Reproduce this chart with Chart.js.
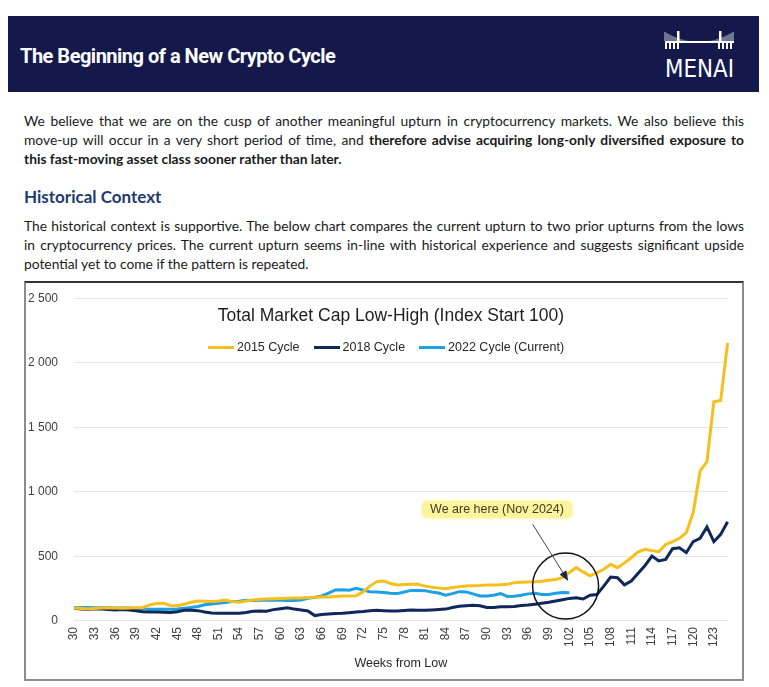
<!DOCTYPE html>
<html>
<head>
<meta charset="utf-8">
<script src="https://cdn.jsdelivr.net/npm/chart.js@4.4.1/dist/chart.umd.min.js"></script>
<style>
  html, body { margin: 0; padding: 0; background: #fff; }
  body { width: 769px; height: 687px; position: relative; overflow: hidden; font-family: Lato, "Liberation Sans", sans-serif; color: #1a1a1a; }
  .banner { position: absolute; left: 8px; top: 16px; width: 751px; height: 76px; background: #14184b; }
  .banner h1 { position: absolute; left: 12px; top: 2px; margin: 0; font: 700 20px Roboto, sans-serif; line-height: 76px; letter-spacing: -0.5px; color: #fff; }
  .logo { position: absolute; left: 655px; top: 14px; }
  .txt { position: absolute; left: 24px; width: 720px; font-size: 13.8px; line-height: 19px; white-space: nowrap; }
  .txt div { text-align: justify; text-align-last: justify; }
  .txt div.last { text-align-last: left; }
  h2 { position: absolute; left: 24px; top: 186px; margin: 0; font: 700 17px Lato, sans-serif; line-height: 22px; color: #1f3a6e; }
  .box { position: absolute; left: 24px; top: 281px; width: 716px; height: 396px; border: 2px solid #8c8c8c; border-top-color: #333; }
  .box canvas { position: absolute; left: -14px; top: -8px; }
  .ctitle { position: absolute; left: 0; width: 100%; top: 22px; text-align: center; padding-left: 14px; box-sizing: border-box; font: 17.5px "Liberation Sans", sans-serif; color: #1e1e1e; }
  .legend { position: absolute; left: 182px; top: 57px; display: flex; font: 12.5px "Liberation Sans", sans-serif; color: #262626; }
  .legend span { display: flex; align-items: center; margin-right: 14px; }
  .legend i { display: inline-block; width: 26px; height: 3px; margin-right: 3px; }
</style>
</head>
<body>
<div class="banner">
  <h1>The Beginning of a New Crypto Cycle</h1>
</div>
<svg class="logo" width="80" height="70" id="logo"></svg>

<div class="txt" style="top:111px">
  <div>We believe that we are on the cusp of another meaningful upturn in cryptocurrency markets. We also believe this</div>
  <div>move-up will occur in a very short period of time, and <b>therefore advise acquiring long-only diversified exposure to</b></div>
  <div class="last"><b>this fast-moving asset class sooner rather than later.</b></div>
</div>
<h2>Historical Context</h2>
<div class="txt" style="top:216px">
  <div>The historical context is supportive. The below chart compares the current upturn to two prior upturns from the lows</div>
  <div>in cryptocurrency prices. The current upturn seems in-line with historical experience and suggests significant upside</div>
  <div class="last">potential yet to come if the pattern is repeated.</div>
</div>

<div class="box">
  <canvas id="chart" width="736" height="404"></canvas>
  <div class="ctitle">Total Market Cap Low-High (Index Start 100)</div>
  <div class="legend">
    <span><i style="background:#f5bf1d"></i>2015 Cycle</span>
    <span><i style="background:#10275a"></i>2018 Cycle</span>
    <span><i style="background:#1ea0e4"></i>2022 Cycle (Current)</span>
  </div>
</div>

<script>
const weeks = [30, 31, 32, 33, 34, 35, 36, 37, 38, 39,
  40, 41, 42, 43, 44, 45, 46, 47, 48, 49,
  50, 51, 52, 53, 54, 55, 56, 57, 58, 59,
  60, 61, 62, 63, 64, 65, 66, 67, 68, 69,
  70, 71, 72, 73, 74, 75, 76, 77, 78, 79,
  80, 81, 82, 83, 84, 85, 86, 87, 88, 89,
  90, 91, 92, 93, 94, 95, 96, 97, 98, 99,
  100, 101, 102, 103, 104, 105, 106, 107, 108, 109,
  110, 111, 112, 113, 114, 115, 116, 117, 118, 119,
  120, 121, 122, 123, 124, 125];

const cycle2015 = [100, 97, 95, 97, 100, 102, 100, 98, 100, 102,
  105, 125, 135, 138, 120, 118, 130, 145, 155, 152,
  150, 155, 163, 150, 145, 155, 163, 168, 170, 172,
  175, 176, 178, 178, 181, 183, 186, 186, 190, 194,
  194, 196, 225, 270, 305, 310, 290, 278, 282, 284,
  284, 270, 262, 255, 250, 260, 266, 271, 273, 275,
  279, 279, 280, 285, 297, 300, 302, 304, 308, 315,
  322, 335, 375, 413, 380, 350, 372, 400, 439, 413,
  450, 490, 535, 555, 545, 537, 593, 615, 640, 685,
  840, 1160, 1235, 1698, 1708, 2154];

const cycle2018 = [100, 92, 90, 95, 92, 88, 85, 88, 85, 80,
  72, 70, 70, 68, 66, 72, 83, 83, 80, 70,
  62, 60, 60, 60, 60, 65, 75, 78, 76, 88,
  95, 102, 92, 85, 78, 42, 50, 54, 57, 59,
  64, 70, 74, 80, 83, 80, 78, 77, 82, 85,
  84, 83, 85, 88, 92, 105, 114, 118, 121, 118,
  105, 105, 110, 111, 113, 120, 124, 130, 137, 145,
  155, 165, 175, 180, 170, 200, 205, 270, 340, 335,
  280, 310, 370, 430, 503, 465, 477, 560, 567, 529,
  615, 640, 728, 614, 671, 769];

const cycle2022 = [100, 105, 105, 103, 103, 102, 100, 100, 100, 95,
  92, 90, 90, 90, 91, 92, 98, 105, 112, 125,
  132, 138, 143, 150, 152, 160, 158, 160, 160, 160,
  160, 158, 158, 162, 175, 183, 194, 215, 240, 242,
  238, 253, 240, 226, 224, 220, 215, 212, 225, 237,
  237, 235, 225, 217, 200, 212, 227, 225, 210, 194,
  194, 200, 212, 190, 192, 199, 210, 214, 206, 206,
  214, 220, 218];

// logo: little suspension bridge + wordmark
(function drawLogo() {
    const svg = document.getElementById('logo');
    let parts = '';
    for (let i = 0; i <= 34; i++) {
        const x = 10 + i * 2;
        const t = (x - 44) / 34;
        const top = 18 + 10 * (1 - t * t);
        parts += `<line x1="${x}" y1="${top}" x2="${x}" y2="27" stroke="#fff" stroke-width="0.8"/>`;
    }
    parts += '<rect x="22" y="17" width="2.5" height="10" fill="#fff"/>';
    parts += '<rect x="64" y="17" width="2.5" height="10" fill="#fff"/>';
    parts += '<rect x="10" y="27" width="69" height="2" fill="#fff"/>';
    [10, 14, 18, 22, 63, 67, 71, 75].forEach(x => {
        parts += `<rect x="${x}" y="29" width="2" height="6" fill="#fff"/>`;
    });
    parts += '<text x="10" y="63" textLength="69" lengthAdjust="spacingAndGlyphs" fill="#fff" font-family="DejaVu Sans Condensed, Liberation Sans Narrow, sans-serif" font-size="25">MENAI</text>';
    svg.innerHTML = parts;
})();

const hereNote = {
    id: 'hereNote',
    afterDatasetsDraw(chart) {
        const { ctx, scales: { x, y } } = chart;
        const px = w => x.getPixelForValue(w - weeks[0]);

        ctx.save();
        // circle round the current point
        ctx.beginPath();
        ctx.arc(px(101.45), y.getPixelForValue(270), 33, 0, Math.PI * 2);
        ctx.lineWidth = 1.5;
        ctx.strokeStyle = '#111';
        ctx.stroke();

        // arrow
        const x1 = px(96.67), y1 = y.getPixelForValue(748);
        const x2 = px(101.84), y2 = y.getPixelForValue(310);
        const ang = Math.atan2(y2 - y1, x2 - x1);
        ctx.beginPath();
        ctx.moveTo(x1, y1);
        ctx.lineTo(x2 - 8 * Math.cos(ang), y2 - 8 * Math.sin(ang));
        ctx.lineWidth = 1;
        ctx.strokeStyle = '#444';
        ctx.stroke();
        ctx.beginPath();
        ctx.moveTo(x2, y2);
        ctx.lineTo(x2 - 10 * Math.cos(ang) + 4 * Math.sin(ang), y2 - 10 * Math.sin(ang) - 4 * Math.cos(ang));
        ctx.lineTo(x2 - 10 * Math.cos(ang) - 4 * Math.sin(ang), y2 - 10 * Math.sin(ang) + 4 * Math.cos(ang));
        ctx.closePath();
        ctx.fillStyle = '#1b2a4a';
        ctx.fill();

        // label with yellow highlight
        const tx = px(91.48), ty = y.getPixelForValue(867);
        ctx.font = '12.5px "Liberation Sans", sans-serif';
        const tw = ctx.measureText('We are here (Nov 2024)').width;
        ctx.fillStyle = '#fbf49c';
        ctx.shadowColor = '#fbf49c';
        ctx.shadowBlur = 4;
        ctx.beginPath();
        ctx.roundRect(tx - tw / 2 - 8, ty - 8, tw + 16, 17, 5);
        ctx.fill();
        ctx.shadowBlur = 0;
        ctx.fillStyle = '#3d3d28';
        ctx.textAlign = 'center';
        ctx.textBaseline = 'middle';
        ctx.fillText('We are here (Nov 2024)', tx, ty + 0.5);
        ctx.restore();
    }
};

Chart.defaults.font.family = '"Liberation Sans", sans-serif';
Chart.defaults.color = '#404040';

new Chart(document.getElementById('chart'), {
    type: 'line',
    data: {
        labels: weeks,
        datasets: [
            { label: '2015 Cycle', data: cycle2015, borderColor: '#f5bf1d', backgroundColor: '#f5bf1d', borderWidth: 3, pointRadius: 0, tension: 0 },
            { label: '2018 Cycle', data: cycle2018, borderColor: '#10275a', backgroundColor: '#10275a', borderWidth: 3, pointRadius: 0, tension: 0 },
            { label: '2022 Cycle (Current)', data: cycle2022, borderColor: '#1ea0e4', backgroundColor: '#1ea0e4', borderWidth: 3, pointRadius: 0, tension: 0 }
        ]
    },
    options: {
        responsive: false,
        animation: false,
        layout: { padding: { left: 0, right: 0, top: 0, bottom: 8 } },
        plugins: {
            legend: { display: false },
            title: { display: false },
            tooltip: { enabled: false }
        },
        scales: {
            x: {
                offset: false,
                grid: { display: false, drawTicks: false },
                border: { display: false },
                ticks: {
                    autoSkip: false,
                    maxRotation: 90,
                    minRotation: 90,
                    padding: 6,
                    font: { size: 12 },
                    callback: (v, i) => weeks[i] % 3 === 0 ? String(weeks[i]) : ''
                },
                title: { display: true, text: 'Weeks from Low', font: { size: 12.5 }, color: '#262626', padding: { top: 3, bottom: 0 } }
            },
            y: {
                min: 0,
                max: 2500,
                grid: { color: '#e4e4e4', drawTicks: false },
                border: { display: false },
                ticks: {
                    stepSize: 500,
                    padding: 16,
                    font: { size: 12 },
                    callback: v => v >= 1000 ? Math.floor(v / 1000) + ' ' + String(v % 1000).padStart(3, '0') : String(v)
                }
            }
        }
    },
    plugins: [hereNote]
});
</script>
</body>
</html>
